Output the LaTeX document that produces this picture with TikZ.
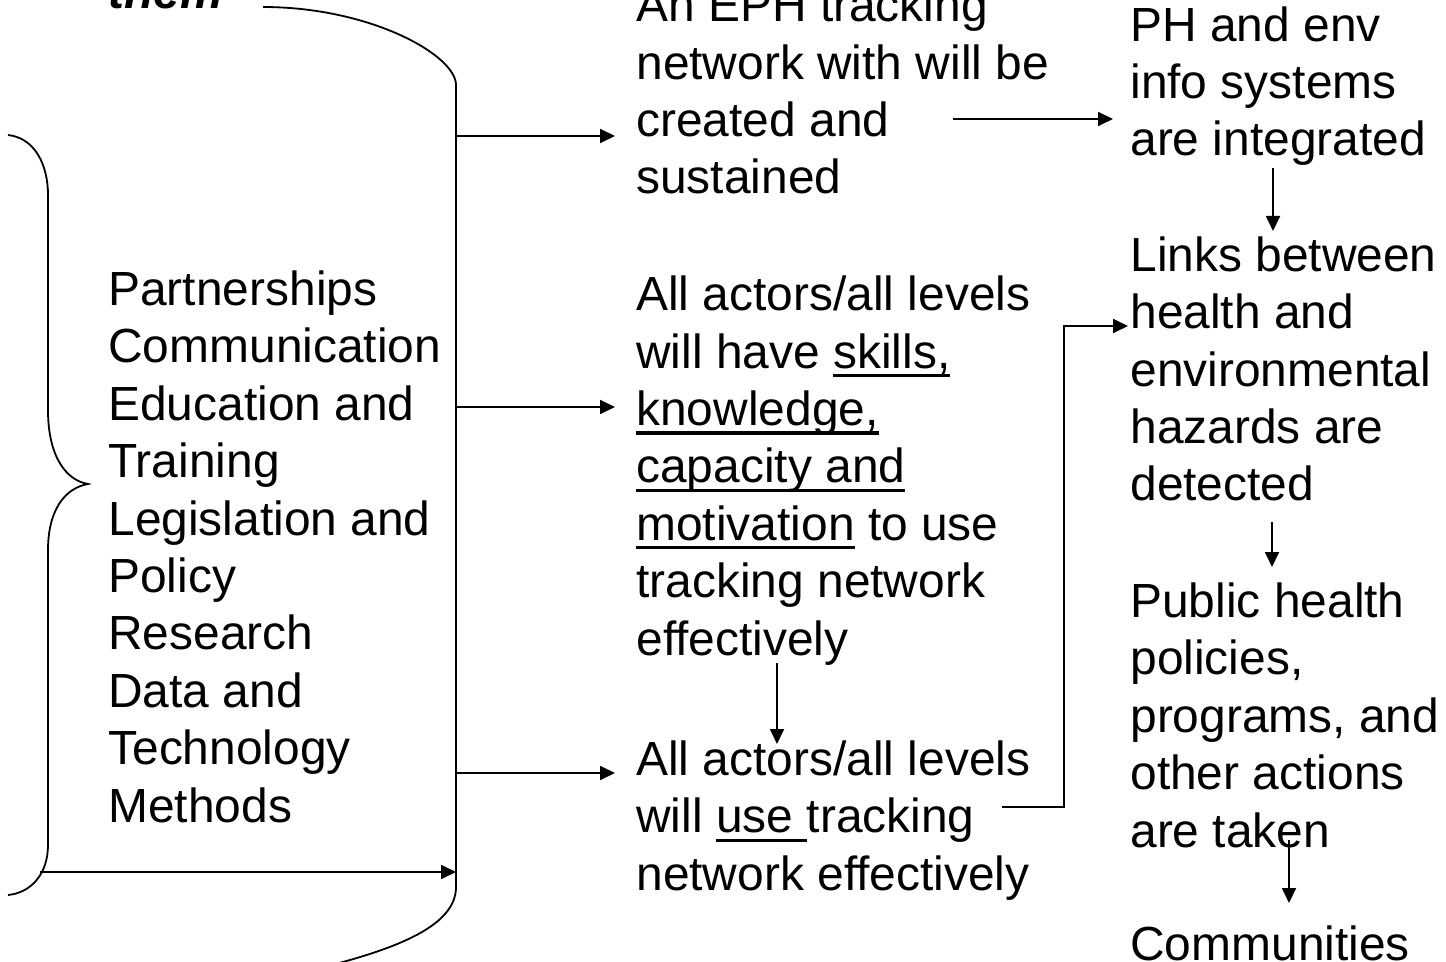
\documentclass[tikz,border=0pt]{standalone}
\usepackage{fontspec}
\setmainfont{Liberation Sans}
\usetikzlibrary{arrows.meta,calc}
% underline drawn at a fixed depth below the baseline
\newsavebox{\ulnbox}
\newcommand{\uln}[1]{\sbox{\ulnbox}{#1}\rlap{\rule[-4.6pt]{\wd\ulnbox}{1.6pt}}\usebox{\ulnbox}}

\begin{document}
\begin{tikzpicture}[x=0.5pt,y=-0.5pt,
  % anchored at the baseline of the last line of each block
  txt/.style={anchor=base west, inner sep=0pt, align=left,
    font=\fontsize{23.95pt}{28.7pt}\selectfont},
  link/.style={-{Triangle[length=7.5pt,width=7pt]}, line width=0.9pt},
  rim/.style={line width=0.9pt}]
\useasboundingbox (0,0) rectangle (1446,962);
\clip (0,0) rectangle (1446,962);

% --- text blocks ---
\node[txt, font=\fontsize{23.95pt}{28.7pt}\selectfont\bfseries\itshape] (hdr) at (108,9) {them};
\node[txt] (tools) at (108,822) {Partnerships\\Communication\\Education and\\Training\\Legislation and\\Policy\\Research\\Data and\\Technology\\Methods};
\node[txt] (net) at (636,194) {An EPH tracking\\network with will be\\created and\\sustained};
\node[txt] (skills) at (636,655) {All actors/all levels\\will have \uln{skills,}\\\uln{knowledge,}\\\uln{capacity and}\\\uln{motivation} to use\\tracking network\\effectively};
\node[txt] (use) at (636,890) {All actors/all levels\\will \uln{use }tracking\\network effectively};
\node[txt] (integ) at (1130,156) {PH and env\\info systems\\are integrated};
\node[txt] (links) at (1130,501) {Links between\\health and\\environmental\\hazards are\\detected};
\node[txt] (acts) at (1130,847) {Public health\\policies,\\programs, and\\other actions\\are taken};
\node[txt] (comm) at (1130,960) {Communities};

% --- large bracket gathering the outcomes ---
\draw[rim] (263,7) .. controls (370,7) and (456,55) .. (456,85) -- (456,887)
  .. controls (456,925) and (400,948) .. (320,968);
% --- curly brace round the list of activities ---
\draw[rim] (8,135) .. controls (35,138) and (48,165) .. (48,195) -- (48,410)
  .. controls (48,455) and (65,480) .. (88,484)
  .. controls (65,488) and (48,510) .. (48,550) -- (48,845)
  .. controls (48,875) and (30,893) .. (8,895);

% --- connector end points ---
\coordinate (s1) at (456,136);
\coordinate (s2) at (456,407);
\coordinate (s3) at (456,773);
\coordinate (braceout) at (40,872);
\coordinate (s4) at (456,872);
\coordinate (t1) at (615,136);
\coordinate (t2) at (615,407);
\coordinate (t3) at (615,773);
\coordinate (netout) at (953,119);
\coordinate (integin) at (1113,119);
\coordinate (integout) at (1273,168);
\coordinate (linksin) at (1273,231);
\coordinate (skillsout) at (777,663);
\coordinate (usein) at (777,744);
\coordinate (useout) at (1002,807);
\coordinate (bend) at (1064,807);
\coordinate (linksside) at (1128,326);
\coordinate (linksout) at (1272,522);
\coordinate (actsin) at (1272,567);
\coordinate (actsout) at (1289,840);
\coordinate (commin) at (1289,903);

% --- connectors ---
\draw[link] (s1) -- (t1);
\draw[link] (s2) -- (t2);
\draw[link] (s3) -- (t3);
\draw[link] (braceout) -- (s4);
\draw[link] (netout) -- (integin);
\draw[link] (integout) -- (linksin);
\draw[link] (skillsout) -- (usein);
\draw[link] (useout) -- (bend) |- (linksside);
\draw[link] (linksout) -- (actsin);
\draw[link] (actsout) -- (commin);
\end{tikzpicture}
\end{document}
